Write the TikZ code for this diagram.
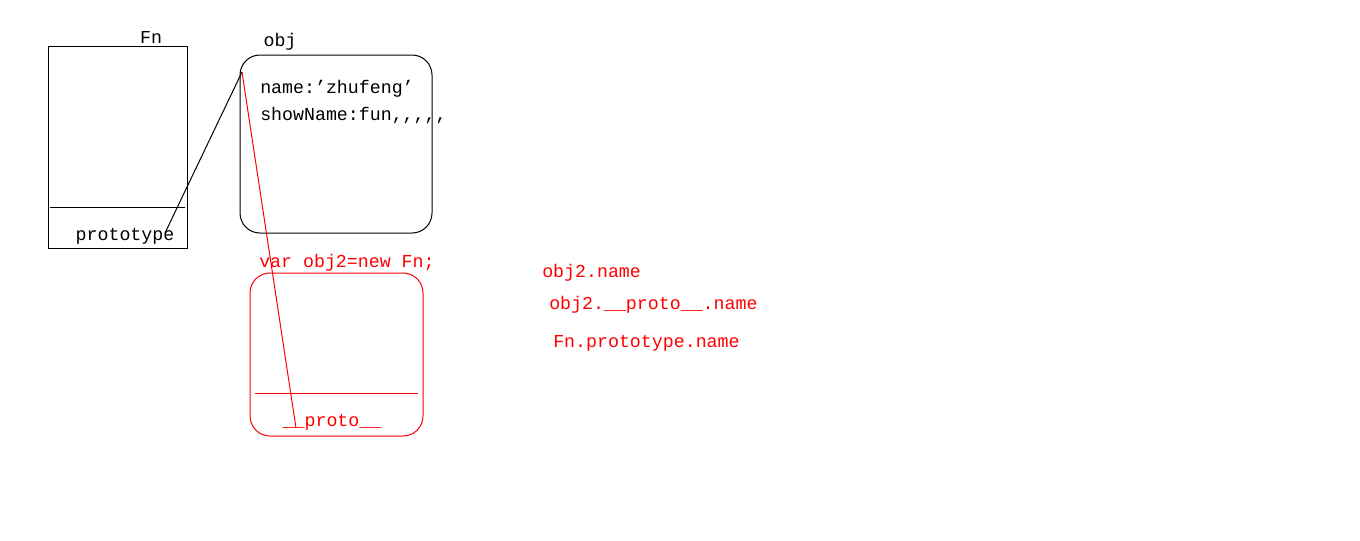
\documentclass[tikz,border=0pt]{standalone}
\usepackage{fontspec}
\setmainfont{Liberation Mono}
\begin{document}
\begin{tikzpicture}[x=0.75pt,y=-0.75pt,
  txt/.style={inner sep=0pt,font=\fontsize{13.7pt}{15pt}\selectfont},
  redtxt/.style={txt,text=red},
  boxline/.style={draw=black,line width=0.75pt},
  redline/.style={draw=red,line width=0.75pt}]
\useasboundingbox[fill=white] (0,0) rectangle (1360,540);
% Fn box
\draw[boxline] (48,46) rectangle (187,248);
\draw[boxline] (50,207) -- (185,207);
\node[txt] (fnlabel) at (151,37) {Fn};
\node[txt] (proto) at (125,236) {prototype};
\coordinate (protoend) at (165,233);
% obj box
\draw[boxline,rounded corners=15] (240,55) rectangle (432,233);
\node[txt] (objlabel) at (280,42) {obj};
\node[txt,anchor=west] (l1) at (260,89) {name:'zhufeng'};
\node[txt,anchor=west] (l2) at (260,115) {showName:fun,{},{},{},{},};
\coordinate (objref) at (242,72);
% obj2 box
\node[redtxt,anchor=west] (newfn) at (259,263) {var obj2=new Fn;};
\draw[redline,rounded corners=15] (250,273) rectangle (423,436);
\draw[redline] (255,393) -- (418,393);
\node[redtxt] (dproto) at (332,422) {\_\_proto\_\_};
\coordinate (dprotoend) at (296,428);
% connectors
\draw[boxline] (protoend) -- (objref);
\draw[redline] (objref) -- (dprotoend);
% right-side texts
\node[redtxt,anchor=west] (r1) at (542,273) {obj2.name};
\node[redtxt,anchor=west] (r2) at (549,305) {obj2.\_\_proto\_\_.name};
\node[redtxt,anchor=west] (r3) at (553,343) {Fn.prototype.name};
\end{tikzpicture}
\end{document}
